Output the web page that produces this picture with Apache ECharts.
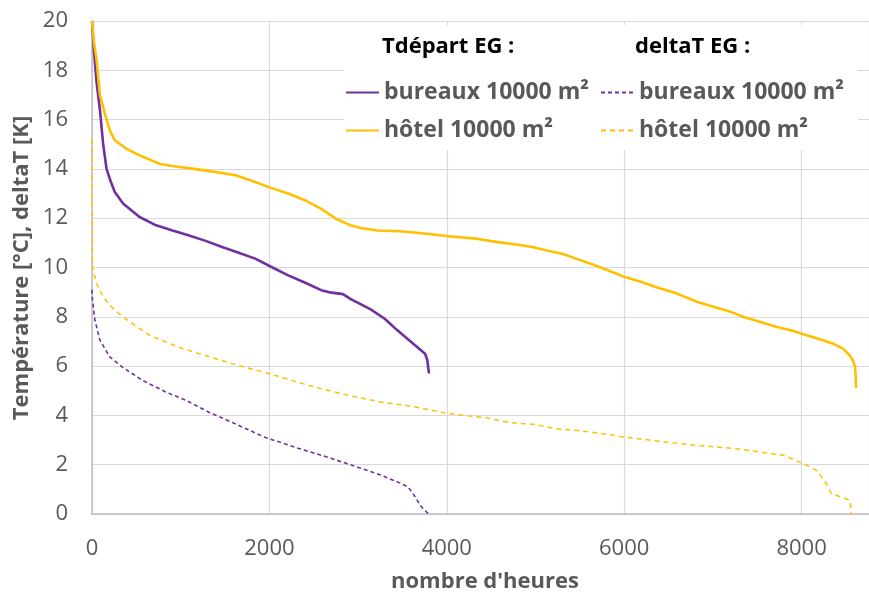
<!DOCTYPE html>
<html>
<head>
<meta charset="utf-8">
<title>Tdépart et deltaT EG</title>
<script src="https://cdn.jsdelivr.net/npm/echarts@6/dist/echarts.min.js"></script>
<style>
  html, body { margin: 0; padding: 0; background: #ffffff; }
  #chart { width: 869px; height: 594px; }
</style>
</head>
<body>
<div id="chart"></div>
<script>
// Courbes classées : [nombre d'heures, valeur]
const bureauxTdepart = [
  [0, 20], [22, 18.8], [52, 17.5], [89, 16.4], [126, 15.0], [164, 14.0], [210, 13.5],
  [257, 13.06], [350, 12.6], [536, 12.05], [723, 11.71], [908, 11.5], [1095, 11.3],
  [1281, 11.08], [1467, 10.83], [1653, 10.6], [1840, 10.36], [2007, 10.05], [2212, 9.68],
  [2398, 9.39], [2584, 9.08], [2700, 8.98], [2830, 8.92], [2918, 8.72], [3142, 8.3],
  [3300, 7.92], [3440, 7.46], [3625, 6.9], [3755, 6.5], [3780, 6.25], [3790, 5.95], [3800, 5.7]
];
const hotelTdepart = [
  [0, 20], [20, 19.2], [52, 18.4], [89, 17.0], [145, 16.24], [201, 15.56], [257, 15.16],
  [387, 14.82], [536, 14.55], [760, 14.21], [905, 14.12], [1150, 14.0], [1350, 13.9],
  [1620, 13.74], [1840, 13.47], [2007, 13.24], [2212, 13.0], [2400, 12.73], [2580, 12.39],
  [2750, 11.98], [2916, 11.71], [3027, 11.6], [3217, 11.5], [3475, 11.47], [3775, 11.37],
  [4018, 11.27], [4334, 11.17], [4576, 11.03], [4780, 10.93], [4966, 10.83], [5116, 10.7],
  [5302, 10.56], [5488, 10.32], [5637, 10.13], [5786, 9.93], [6009, 9.61], [6196, 9.41],
  [6382, 9.18], [6568, 8.98], [6828, 8.6], [7014, 8.4], [7200, 8.2], [7350, 7.99],
  [7536, 7.79], [7722, 7.59], [7908, 7.42], [8020, 7.29], [8206, 7.09], [8355, 6.91],
  [8466, 6.71], [8541, 6.44], [8578, 6.24], [8600, 6.0], [8610, 5.6], [8615, 5.1]
];
const bureauxDeltaT = [
  [0, 9.1], [5, 8.7], [33, 7.86], [89, 7.05], [201, 6.37], [346, 5.95], [570, 5.42],
  [838, 4.94], [1061, 4.61], [1318, 4.13], [1578, 3.72], [1950, 3.11], [2323, 2.67],
  [2695, 2.26], [2993, 1.9], [3254, 1.58], [3477, 1.25], [3560, 1.1], [3610, 0.88],
  [3660, 0.6], [3700, 0.35], [3775, 0.07], [3800, 0]
];
const hotelDeltaT = [
  [0, 15.2], [5, 10], [52, 9.35], [126, 8.8], [238, 8.33], [350, 7.99], [648, 7.25],
  [1020, 6.71], [1578, 6.1], [1988, 5.7], [2510, 5.15], [2882, 4.82], [3254, 4.54],
  [3589, 4.38], [3775, 4.25], [3962, 4.11], [4185, 4.0], [4446, 3.9], [4706, 3.71],
  [5004, 3.63], [5227, 3.46], [5451, 3.4], [5749, 3.26], [6046, 3.1], [6307, 2.99],
  [6511, 2.9], [6790, 2.79], [7270, 2.65], [7796, 2.38], [8020, 2.04], [8168, 1.77],
  [8280, 1.23], [8336, 0.83], [8390, 0.76], [8541, 0.56], [8555, 0.3], [8560, 0]
];

const legendHeaders = ['Tdépart EG :', 'deltaT EG :'];
const buildingLabels = ['bureaux 10000 m²', 'hôtel 10000 m²'];
const xAxisTitle = "nombre d'heures";
const yAxisTitle = 'Température [°C], deltaT [K]';

const PURPLE = '#7030A0';
const GOLD = '#FFC000';
const GREY = '#595959';
const FONT = '"Open Sans", sans-serif';

const names = {
  tb: 'Tdépart|' + buildingLabels[0],
  th: 'Tdépart|' + buildingLabels[1],
  db: 'deltaT|' + buildingLabels[0],
  dh: 'deltaT|' + buildingLabels[1]
};

function lineSeries(name, data, color, width, dash) {
  return {
    name: name,
    type: 'line',
    data: data,
    showSymbol: false,
    symbol: 'none',
    lineStyle: { color: color, width: width, type: dash || 'solid' },
    itemStyle: { color: color },
    emphasis: { disabled: true },
    silent: true,
    z: 3
  };
}

// Legend entries show only the line sample (no marker)
const legendCommon = {
  orient: 'vertical',
  selectedMode: false,
  padding: 0,
  itemWidth: 33,
  itemHeight: 14,
  itemGap: 15,
  itemStyle: { opacity: 0 },
  formatter: n => n.split('|')[1],
  textStyle: { fontFamily: FONT, fontSize: 23, fontWeight: 'bold', color: GREY, lineHeight: 23 }
};

const chart = echarts.init(document.getElementById('chart'), null, { renderer: 'canvas' });
chart.setOption({
  animation: false,
  backgroundColor: '#ffffff',
  grid: { left: 92, right: -7, top: 21, bottom: 80, containLabel: false },
  xAxis: {
    type: 'value',
    min: 0,
    max: 8760,
    interval: 2000,
    axisLine: { show: true, lineStyle: { color: '#bfbfbf', width: 1.5 } },
    axisTick: { show: false },
    axisLabel: { fontFamily: FONT, fontSize: 22, color: GREY, margin: 24, showMaxLabel: false,
                 formatter: v => String(v) },
    splitLine: { show: true, lineStyle: { color: '#d9d9d9', width: 1.2 } }
  },
  yAxis: {
    type: 'value',
    min: 0,
    max: 20,
    interval: 2,
    axisLine: { show: true, lineStyle: { color: '#bfbfbf', width: 1.5 } },
    axisTick: { show: false },
    axisLabel: { fontFamily: FONT, fontSize: 22, color: GREY, margin: 24 },
    splitLine: { show: true, lineStyle: { color: '#d9d9d9', width: 1.2 } }
  },
  legend: [
    Object.assign({}, legendCommon, { left: 345, top: 81, data: [names.tb, names.th] }),
    Object.assign({}, legendCommon, { left: 600, top: 81, data: [names.db, names.dh] })
  ],
  graphic: [
    { type: 'rect', z: 1, silent: true, shape: { x: 344, y: 25, width: 514, height: 125 },
      style: { fill: '#ffffff' } },
    { type: 'text', z: 5, left: 382, top: 36,
      style: { text: legendHeaders[0], font: 'bold 22px ' + FONT, fill: '#000000' } },
    { type: 'text', z: 5, left: 635, top: 36,
      style: { text: legendHeaders[1], font: 'bold 22px ' + FONT, fill: '#000000' } },
    { type: 'text', z: 5, x: 485, y: 582,
      style: { text: xAxisTitle, font: 'bold 22px ' + FONT, fill: GREY, align: 'center', verticalAlign: 'middle' } },
    { type: 'text', z: 5, x: 22, y: 268, rotation: Math.PI / 2,
      style: { text: yAxisTitle, font: 'bold 22px ' + FONT, fill: GREY, align: 'center', verticalAlign: 'middle' } }
  ],
  series: [
    lineSeries(names.tb, bureauxTdepart, PURPLE, 2.6),
    lineSeries(names.th, hotelTdepart, GOLD, 2.6),
    lineSeries(names.db, bureauxDeltaT, PURPLE, 1.6, [4, 3]),
    lineSeries(names.dh, hotelDeltaT, GOLD, 1.5, [5, 4])
  ]
});
</script>
</body>
</html>
